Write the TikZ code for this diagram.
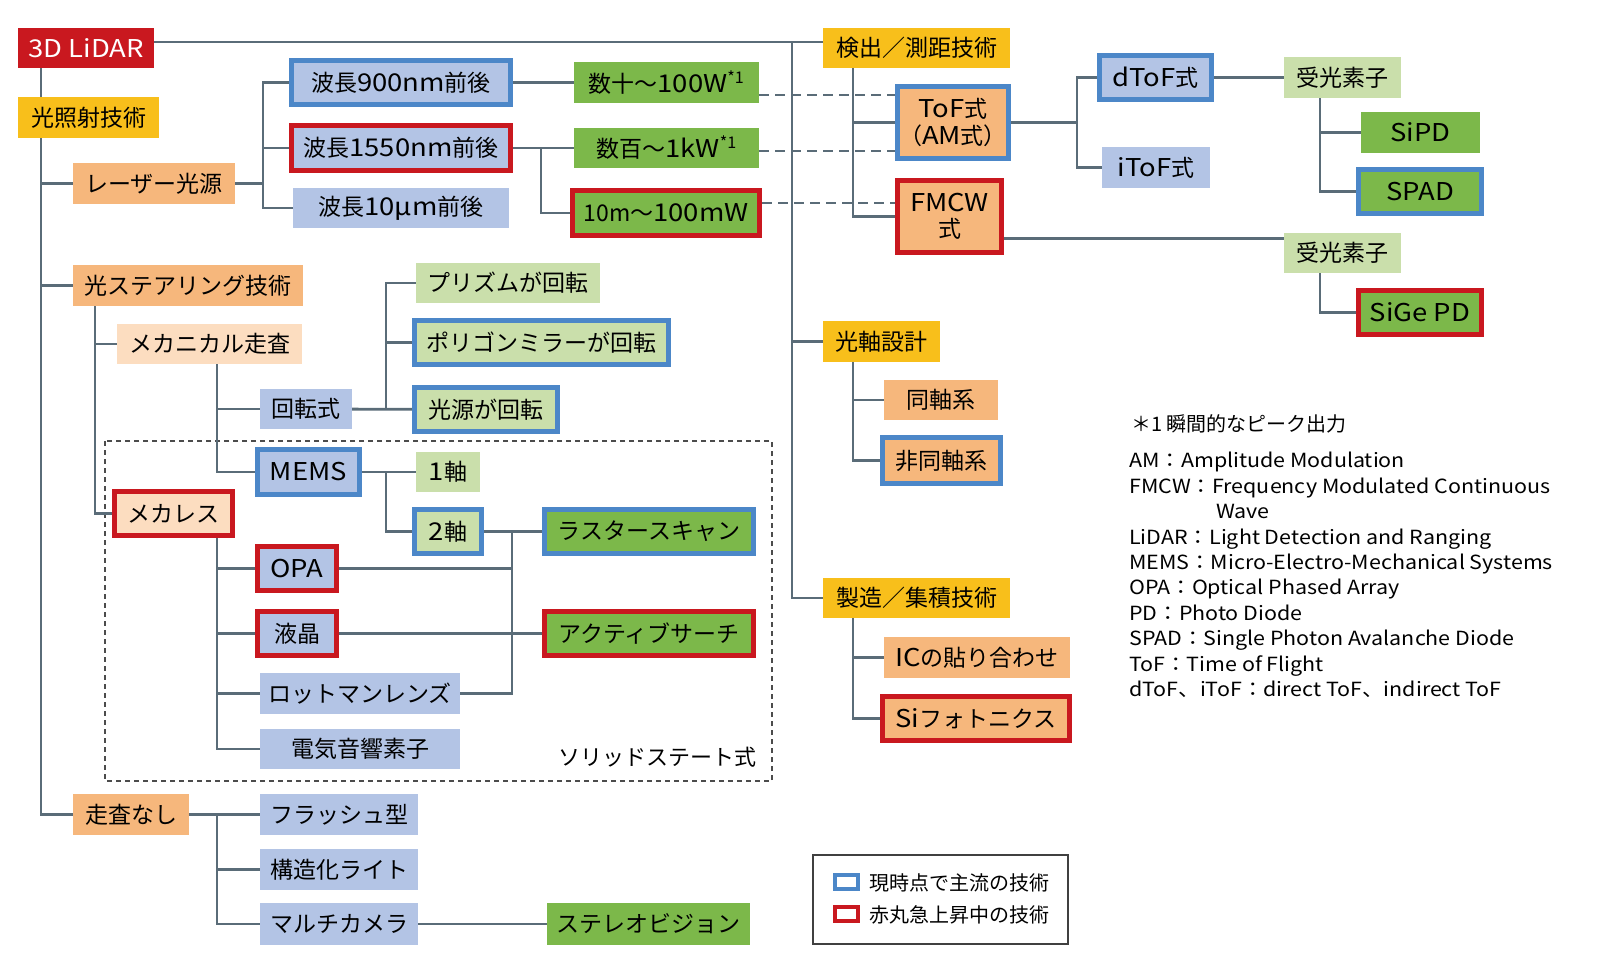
\documentclass[tikz,border=0pt]{standalone}
\usepackage{fontspec}
\setmainfont{Noto Sans CJK JP}
\newfontfamily\latinwide{Noto Sans CJK JP}[FakeStretch=1.12]
\newfontfamily\notefont{Noto Sans CJK JP}[FakeStretch=1.1]
\newcommand\latn[1]{{\latinwide\fontsize{24.5}{26.5}\selectfont #1}}
\usepackage{tikz}
\usetikzlibrary{backgrounds}
\definecolor{lidarred}{HTML}{C9181F}
\definecolor{techyellow}{HTML}{F8BF1B}
\definecolor{techorange}{HTML}{F6B77C}
\definecolor{peach}{HTML}{FCDDC0}
\definecolor{paleblue}{HTML}{B3C4E5}
\definecolor{mainblue}{HTML}{4C87C8}
\definecolor{leafgreen}{HTML}{7CB84A}
\definecolor{palegreen}{HTML}{CADFAB}
\definecolor{wirecol}{HTML}{5A6C78}
\tikzstyle{box}=[rectangle,inner sep=0pt,align=center,font=\fontsize{23}{26.5}\selectfont]
\tikzstyle{top}=[box,fill=lidarred,text=white]
\tikzstyle{area}=[box,fill=techyellow]
\tikzstyle{tech}=[box,fill=techorange]
\tikzstyle{sub}=[box,fill=peach]
\tikzstyle{item}=[box,fill=paleblue]
\tikzstyle{leaf}=[box,fill=leafgreen]
\tikzstyle{pale}=[box,fill=palegreen]
\tikzstyle{mainstream}=[draw=mainblue,line width=5pt]
\tikzstyle{rising}=[draw=lidarred,line width=5pt]
\tikzstyle{wire}=[draw=wirecol,line width=2.8pt]
\tikzstyle{link}=[wire,dash pattern=on 10pt off 6pt]
\tikzstyle{note}=[anchor=west,inner sep=0pt,align=left,font=\notefont\fontsize{19.5}{25.4}\selectfont]
\tikzset{wh/.style 2 args={minimum width=#1pt,minimum height=#2pt}}

\begin{document}
\begin{tikzpicture}[x=1pt,y=-1pt]
  \useasboundingbox (0,0) rectangle (1600,974);
  % light source side
  \node at (  86,  48) [top,wh={136}{40}] (Lidar) {\latn{3D LiDAR}};
  \node at (88.5,117.5) [area,wh={141}{41}] (Light) {光照射技術};
  \node at ( 154,183.5) [tech,wh={162}{41}] (Laser) {レーザー光源};
  \node at ( 401, 82.5) [item,mainstream,wh={219}{44}] (WlA) {波長\latn{900nm}前後};
  \node at ( 401, 148) [item,rising,wh={219}{45}] (WlB) {波長\latn{1550nm}前後};
  \node at ( 401, 208) [item,wh={216}{40}] (WlC) {波長\latn{10μm}前後};
  \node at (666.5,82.5) [leaf,wh={185}{41}] (PowA) {数十〜\latn{100W}\textsuperscript{*1}};
  \node at (666.5,148) [leaf,wh={185}{40}] (PowB) {数百〜\latn{1kW}\textsuperscript{*1}};
  \node at ( 666, 213) [leaf,rising,wh={187}{45}] (PowC) {10m〜\latn{100mW}};
  % detection side
  \node at (916.5, 48) [area,wh={187}{40}] (Detect) {検出／測距技術};
  \node at ( 953,122.5) [tech,mainstream,wh={111}{72}] (ToF) {\latn{ToF}式\\（\latn{AM}式）};
  \node at (949.5,216.5) [tech,rising,wh={104}{72}] (Fmcw) {\latn{FMCW}\\式};
  \node at (1155.5,77.5) [item,mainstream,wh={112}{44}] (DToF) {\latn{dToF}式};
  \node at (1156,167.5) [item,wh={108}{41}] (IToF) {\latn{iToF}式};
  \node at (1342.5,77.5) [pale,wh={117}{41}] (RecvA) {受光素子};
  \node at (1420.5,132.5) [leaf,wh={119}{41}] (SiPD) {\latn{SiPD}};
  \node at (1420,191.5) [leaf,mainstream,wh={123}{44}] (Spad) {\latn{SPAD}};
  \node at (1342.5,253) [pale,wh={117}{40}] (RecvB) {受光素子};
  \node at (1420,312.5) [leaf,rising,wh={123}{44}] (SiGe) {\latn{SiGe PD}};
  % beam steering
  \node at ( 188,285.5) [tech,wh={230}{41}] (Steer) {光ステアリング技術};
  \node at (209.5,344) [sub,wh={185}{40}] (Mech) {メカニカル走査};
  \node at ( 306, 409) [item,wh={92}{40}] (Rot) {回転式};
  \node at ( 508, 283) [pale,wh={184}{40}] (Prism) {プリズムが回転};
  \node at (541.5,342.5) [pale,mainstream,wh={254}{44}] (Polygon) {ポリゴンミラーが回転};
  \node at ( 486,409.5) [pale,mainstream,wh={143}{44}] (SrcRot) {光源が回転};
  \node at (308.5,472) [item,mainstream,wh={102}{45}] (Mems) {\latn{MEMS}};
  \node at ( 448, 472) [pale,wh={64}{40}] (AxisA) {\latn{1}軸};
  \node at ( 448,531.5) [pale,mainstream,wh={67}{44}] (AxisB) {\latn{2}軸};
  \node at ( 649,531.5) [leaf,mainstream,wh={209}{44}] (Raster) {ラスタースキャン};
  \node at (173.5,513.5) [sub,rising,wh={118}{44}] (Mless) {メカレス};
  \node at ( 297,568.5) [item,rising,wh={79}{44}] (Opa) {\latn{OPA}};
  \node at ( 297,633.5) [item,rising,wh={79}{44}] (Lc) {液晶};
  \node at ( 360,693.5) [item,wh={200}{41}] (Rotman) {ロットマンレンズ};
  \node at ( 360, 749) [item,wh={200}{40}] (Ao) {電気音響素子};
  \node at ( 649,633.5) [leaf,rising,wh={209}{44}] (Active) {アクティブサーチ};
  \node at ( 757, 757) [anchor=east,inner sep=0pt,font=\fontsize{22}{26}\selectfont] (Solid) {ソリッドステート式};
  \node at ( 131,814.5) [tech,wh={116}{41}] (NoScan) {走査なし};
  \node at ( 339,814.5) [item,wh={158}{41}] (Flash) {フラッシュ型};
  \node at ( 339,869.5) [item,wh={158}{41}] (Struct) {構造化ライト};
  \node at ( 339, 924) [item,wh={158}{42}] (Multi) {マルチカメラ};
  \node at (648.5,924) [leaf,wh={203}{42}] (Stereo) {ステレオビジョン};
  % optics and fabrication
  \node at (881.5,341.5) [area,wh={117}{41}] (OptAxis) {光軸設計};
  \node at ( 941, 400) [tech,wh={114}{40}] (Coax) {同軸系};
  \node at (941.5,460.5) [tech,mainstream,wh={118}{46}] (NonCoax) {非同軸系};
  \node at (916.5,598) [area,wh={187}{40}] (Fab) {製造／集積技術};
  \node at ( 977,657.5) [tech,wh={186}{41}] (Bond) {\latn{IC}の貼り合わせ};
  \node at ( 976,718.5) [tech,rising,wh={187}{44}] (SiPh) {\latn{Si}フォトニクス};
  % notes and legend
  \node at (1131, 424) [note,font=\fontsize{20}{24}\selectfont] (Peak) {＊1 瞬間的なピーク出力};
  \node at (1129, 575) [note] (Terms) {AM：Amplitude Modulation\\
    FMCW：Frequency Modulated Continuous\\
    \hspace{87pt}Wave\\
    LiDAR：Light Detection and Ranging\\
    MEMS：Micro-Electro-Mechanical Systems\\
    OPA：Optical Phased Array\\
    PD：Photo Diode\\
    SPAD：Single Photon Avalanche Diode\\
    ToF：Time of Flight\\
    dToF、iToF：direct ToF、indirect ToF};
  \node at (940.5,899.5) [draw=black!75,line width=2pt,wh={255}{89}] (Legend) {};
  \node at (846.5,881.5) [draw=mainblue,line width=4pt,fill=white,wh={23}{14}] (KeyMain) {};
  \node at (846.5,914) [draw=lidarred,line width=4pt,fill=white,wh={23}{14}] (KeyRise) {};
  \node at (869, 883) [note,font=\fontsize{20}{24}\selectfont] (KeyMainText) {現時点で主流の技術};
  \node at (869, 915) [note,font=\fontsize{20}{24}\selectfont] (KeyRiseText) {赤丸急上昇中の技術};
  % bus positions
  \coordinate (Trunk) at (41,0);
  \coordinate (LaserBus) at (263,0);
  \coordinate (PowBus) at (541,0);
  \coordinate (RightBus) at (792,0);
  \coordinate (DetBus) at (853,0);
  \coordinate (ToFBus) at (1077,0);
  \coordinate (RecvBus) at (1320,0);
  \coordinate (SteerBus) at (95,0);
  \coordinate (MechBus) at (217,0);
  \coordinate (RotBus) at (386,0);
  \coordinate (SolidBus) at (512,0);
  \begin{pgfonlayer}{background}
    \draw [draw=black!70,line width=1.5pt,dash pattern=on 5pt off 4pt] (105,441) rectangle (772,781);
    \draw [wire] ([yshift=6pt]Lidar.east) -- ([yshift=6pt]Lidar.east -| Detect.west);
    \draw [wire] (Lidar.south -| Trunk) |- (NoScan);
    \draw [wire] (Trunk |- Laser) -- (Laser);
    \draw [wire] (Trunk |- Steer) -- (Steer);
    \draw [wire] (Laser) -- (LaserBus |- Laser);
    \draw [wire] (WlA) -| (LaserBus |- WlC) -- (WlC);
    \draw [wire] (LaserBus |- WlB) -- (WlB);
    \draw [wire] (WlA) -- (PowA);
    \draw [wire] (WlB) -- (PowB);
    \draw [wire] (PowBus |- WlB) |- (PowC);
    \draw [link] ([yshift=-12.5pt]PowA.east) -- ([yshift=-12.5pt]PowA.east -| ToF.west);
    \draw [link] ([yshift=-3pt]PowB.east) -- ([yshift=-3pt]PowB.east -| ToF.west);
    \draw [link] ([yshift=10pt]PowC.east) -- ([yshift=10pt]PowC.east -| Fmcw.west);
    \draw [wire] ([yshift=6pt]Lidar.east -| RightBus) |- (Fab);
    \draw [wire] (RightBus |- OptAxis) -- (OptAxis);
    \draw [wire] (Detect.south -| DetBus) |- (Fmcw);
    \draw [wire] (DetBus |- ToF) -- (ToF);
    \draw [wire] (ToF) -- (ToFBus |- ToF);
    \draw [wire] (DToF) -| (ToFBus |- IToF) -- (IToF);
    \draw [wire] (DToF) -- (RecvA);
    \draw [wire] (RecvA.south -| RecvBus) |- (Spad);
    \draw [wire] (RecvBus |- SiPD) -- (SiPD);
    \draw [wire] ([yshift=-22pt]Fmcw.east) -- ([yshift=-22pt]Fmcw.east -| RecvB.west);
    \draw [wire] (RecvB.south -| RecvBus) |- (SiGe);
    \draw [wire] (OptAxis.south -| DetBus) |- (NonCoax);
    \draw [wire] (DetBus |- Coax) -- (Coax);
    \draw [wire] (Fab.south -| DetBus) |- (SiPh);
    \draw [wire] (DetBus |- Bond) -- (Bond);
    \draw [wire] (Steer.south -| SteerBus) |- (Mless);
    \draw [wire] (SteerBus |- Mech) -- (Mech);
    \draw [wire] (Mech.south -| MechBus) |- (Mems);
    \draw [wire] (MechBus |- Rot) -- (Rot);
    \draw [wire] (Rot) -- (SrcRot);
    \draw [wire] (RotBus |- Rot) |- (Prism);
    \draw [wire] (RotBus |- Polygon) -- (Polygon);
    \draw [wire] (Mems) -- (AxisA);
    \draw [wire] (RotBus |- Mems) |- (AxisB);
    \draw [wire] (AxisB) -- (Raster);
    \draw [wire] (SolidBus |- AxisB) |- (Rotman);
    \draw [wire] (Opa) -- (SolidBus |- Opa);
    \draw [wire] (Lc) -- (Active);
    \draw [wire] (Mless.south -| MechBus) |- (Ao);
    \draw [wire] (MechBus |- Opa) -- (Opa);
    \draw [wire] (MechBus |- Lc) -- (Lc);
    \draw [wire] (MechBus |- Rotman) -- (Rotman);
    \draw [wire] (NoScan) -- (Flash);
    \draw [wire] (MechBus |- NoScan) |- (Multi);
    \draw [wire] (MechBus |- Struct) -- (Struct);
    \draw [wire] (Multi) -- (Stereo);
  \end{pgfonlayer}
\end{tikzpicture}
\end{document}
